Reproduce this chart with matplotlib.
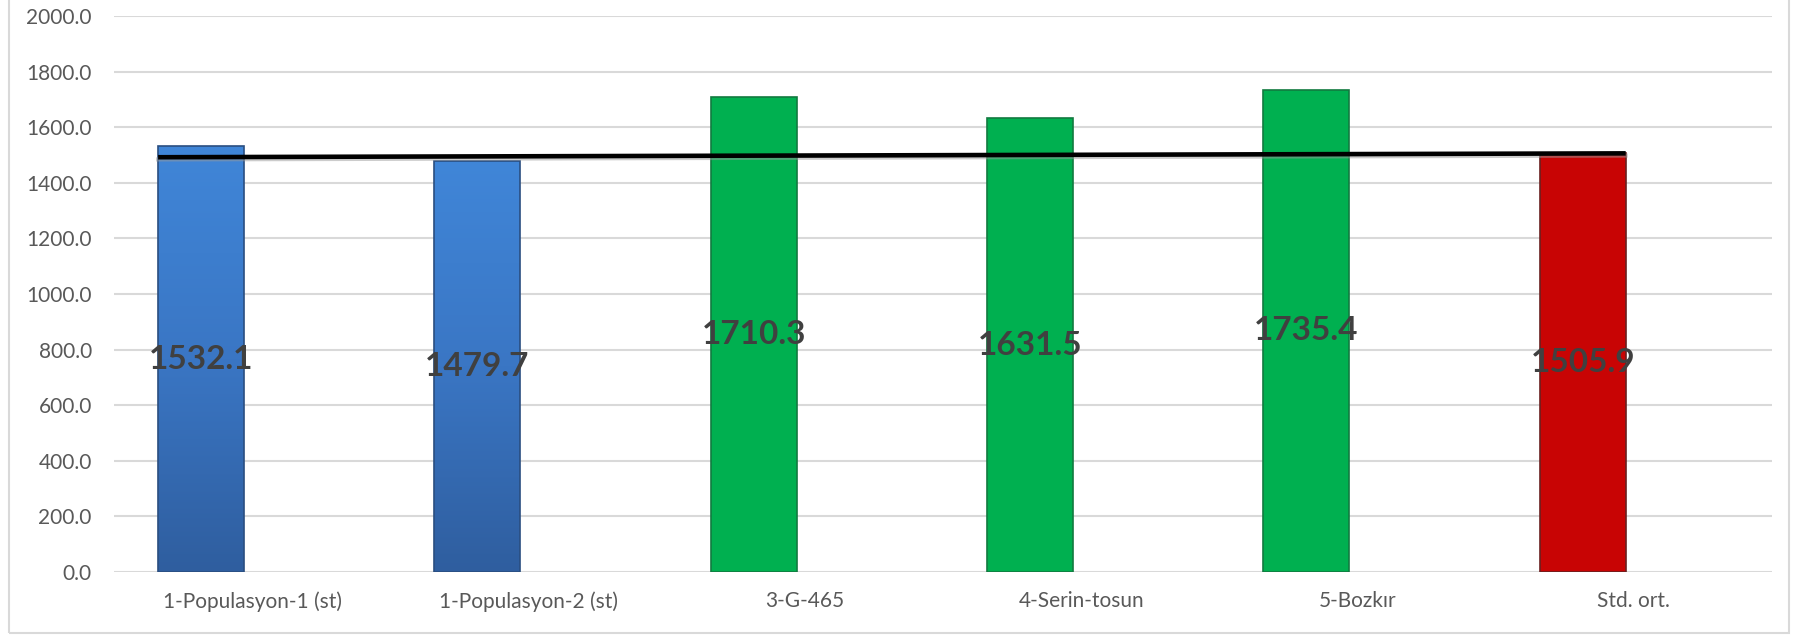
import matplotlib
matplotlib.use('Agg')
import matplotlib.pyplot as plt
import numpy as np
from matplotlib.colors import LinearSegmentedColormap
from matplotlib.patches import Rectangle

# Data
categories = ['1-Populasyon-1 (st)', '1-Populasyon-2 (st)', '3-G-465',
              '4-Serin-tosun', '5-Bozkır', 'Std. ort.']
values = [1532.1, 1479.7, 1710.3, 1631.5, 1735.4, 1505.9]
bar_kinds = ['blue', 'blue', 'green', 'green', 'green', 'red']
# black reference line (start, end level)
ref_line = [1492.0, 1505.9]
yticks = np.arange(0, 2001, 200)

plt.rcParams['font.family'] = ['Lato', 'DejaVu Sans']

fig = plt.figure(figsize=(17.93, 6.35), dpi=100)
ax = fig.add_axes([0.0636, 0.0992, 0.9247, 0.8756])

# figure border
fig.patches.append(Rectangle((0.005, 0.003), 0.9925, 1.05, transform=fig.transFigure,
                             fill=False, edgecolor='#D9D9D9', linewidth=1.5))

x = np.arange(len(categories))
offset = -0.185
width = 0.311
flat_colors = {'green': '#00B050', 'red': '#C80404'}
edge_colors = {'blue': '#2A4E80', 'green': '#127a40', 'red': '#6a2020'}
blue_cmap = LinearSegmentedColormap.from_list('b', ['#2F5E9F', '#3A76C4', '#4086D8'])
grad = np.linspace(0, 1, 256).reshape(-1, 1)

for xi, v, kind in zip(x, values, bar_kinds):
    left = xi + offset - width / 2
    if kind == 'blue':
        b = ax.bar(xi + offset, v, width=width, color='none', edgecolor=edge_colors[kind],
                   linewidth=1.2, zorder=3)[0]
        im = ax.imshow(grad, cmap=blue_cmap, origin='lower', aspect='auto',
                       extent=(left, left + width, 0, v), zorder=2)
        im.set_clip_path(b)
    else:
        ax.bar(xi + offset, v, width=width, color=flat_colors[kind],
               edgecolor=edge_colors[kind], linewidth=1.2, zorder=3)
    ax.text(xi + offset, v / 2, f'{v:.1f}', ha='center', va='center',
            fontsize=24, fontweight='bold', color='#404040', zorder=5)

# reference line across the bars
lx = [x[0] + offset - width / 2, x[-1] + offset + width / 2]
ax.plot(lx, [v - 8 for v in ref_line], color='#9a9a9a', linewidth=3.0, alpha=0.5, zorder=4)
ax.plot(lx, ref_line, color='black', linewidth=3.3, zorder=4, solid_capstyle='butt')

ax.set_xlim(-0.5, len(categories) - 0.5)
ax.set_ylim(0, 2000)
ax.set_yticks(yticks)
ax.set_yticklabels([f'{t:.1f}' for t in yticks])
ax.set_xticks(x)
ax.set_xticklabels(categories)
ax.tick_params(axis='both', length=0, labelsize=15, colors='#595959')
ax.tick_params(axis='x', pad=14)
ax.tick_params(axis='y', pad=16)
ax.grid(axis='y', color='#D9D9D9', linewidth=1.5, zorder=0)
ax.set_axisbelow(True)
for s in ax.spines.values():
    s.set_visible(False)

fig.savefig('out.png', dpi=100)
